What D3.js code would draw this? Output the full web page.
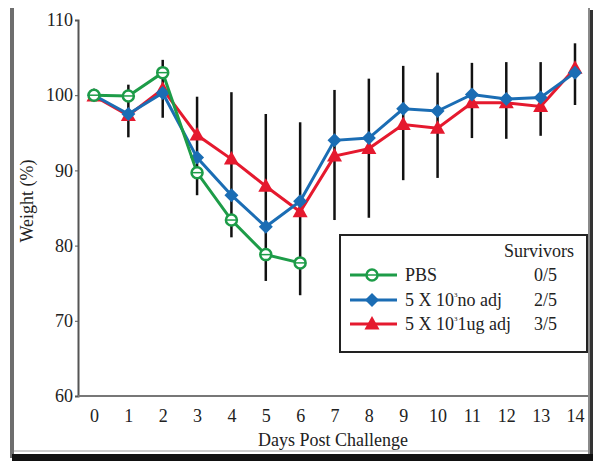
<!DOCTYPE html>
<html><head><meta charset="utf-8">
<script src="https://cdn.jsdelivr.net/npm/d3@7"></script>
<style>body{margin:0;background:#fff}svg{display:block}text{font-family:"Liberation Serif","Times New Roman",serif}</style>
</head><body><svg id="c" width="600" height="466"></svg>
<script>
const days = [0,1,2,3,4,5,6,7,8,9,10,11,12,13,14];
const pbsDays = [0,1,2,3,4,5,6];
const pbs = [100.0,99.9,103.0,89.7,83.4,78.8,77.7];
const noAdj = [100.0,97.5,100.3,91.7,86.7,82.5,85.9,94.0,94.3,98.2,97.9,100.1,99.5,99.7,103.0];
const ugAdj = [99.9,97.3,100.8,94.7,91.5,87.9,84.5,91.9,92.9,96.1,95.6,99.0,99.0,98.5,103.6];
const errLow  = [null,94.4,97.0,86.7,81.1,75.3,73.4,83.4,83.7,88.7,89.0,94.3,94.2,94.6,98.7];
const errHigh = [null,101.4,104.7,99.8,100.4,97.5,96.4,100.7,102.2,103.9,103.0,104.3,104.4,104.4,106.9];
const yTicks = [60,70,80,90,100,110];
const legendNames = ["PBS","5 X 10","5 X 10"];
const legendSup = ["","3","3"];
const legendTail = ["","no adj","1ug adj"];
const survivors = ["0/5","2/5","3/5"];

const svg = d3.select("#c");
const x = d3.scaleLinear().domain([0,14]).range([94,575]);
const y = d3.scaleLinear().domain([60,110]).range([396,20]);
const green = "#1d9c48", blue = "#1b6db4", red = "#e5192e";

// frame
svg.append("rect").attr("x",10).attr("y",8).attr("width",4).attr("height",450).attr("fill","#6e6e6e");
svg.append("rect").attr("x",588).attr("y",8).attr("width",2).attr("height",448).attr("fill","#8a8a8a");
svg.append("rect").attr("x",590).attr("y",10).attr("width",3).attr("height",450).attr("fill","#333");
svg.append("line").attr("x1",14).attr("x2",588).attr("y1",451).attr("y2",451).attr("stroke","#999").attr("stroke-width",1);
svg.append("rect").attr("x",12).attr("y",454).attr("width",581).attr("height",7).attr("fill","#111");

// axes
const ya = svg.append("g").attr("transform","translate(78,0)")
  .call(d3.axisLeft(y).tickValues(yTicks).tickSize(3).tickPadding(2));
ya.select(".domain").attr("stroke","#555").attr("stroke-width",2);
ya.selectAll("line").attr("stroke","#555");
ya.selectAll("text").attr("font-size",18).attr("fill","#222").attr("font-family","Liberation Serif");

svg.append("line").attr("x1",78).attr("x2",588).attr("y1",396).attr("y2",396).attr("stroke","#777").attr("stroke-width",2);
const xa = svg.append("g").attr("transform","translate(0,396)")
  .call(d3.axisBottom(x).tickValues(days).tickSize(0).tickPadding(13));
xa.select(".domain").remove();
xa.selectAll("text").attr("font-size",18).attr("fill","#222").attr("font-family","Liberation Serif");

svg.append("text").attr("x",333).attr("y",446).attr("text-anchor","middle").attr("font-size",18).attr("fill","#222").text("Days Post Challenge");
svg.append("text").attr("transform","translate(33,201) rotate(-90)").attr("text-anchor","middle").attr("font-size",18).attr("fill","#222").text("Weight (%)");

// error bars
svg.append("g").selectAll("line").data(days.filter(d=>errLow[d]!=null)).join("line")
  .attr("x1",d=>x(d)).attr("x2",d=>x(d)).attr("y1",d=>y(errLow[d])).attr("y2",d=>y(errHigh[d]))
  .attr("stroke","#111").attr("stroke-width",2.5);

const line = d3.line().x(d=>x(d[0])).y(d=>y(d[1]));
const series = [
  {c:green, pts:pbsDays.map((d,i)=>[d,pbs[i]]), m:"circle"},
  {c:red, pts:days.map((d,i)=>[d,ugAdj[i]]), m:"tri"},
  {c:blue, pts:days.map((d,i)=>[d,noAdj[i]]), m:"diamond"}
];
function marker(g, m, c){
  if(m==="circle"){
    g.append("circle").attr("r",5.5).attr("fill","#fff").attr("stroke",c).attr("stroke-width",2.5);
    g.append("line").attr("x1",-5).attr("x2",5).attr("stroke",c).attr("stroke-width",1.5);
  } else if(m==="diamond"){
    g.append("path").attr("d","M0,-7L7,0L0,7L-7,0Z").attr("fill",c);
  } else {
    g.append("path").attr("d","M0,-8L7.5,5.5L-7.5,5.5Z").attr("fill",c);
  }
}
[series[1],series[2],series[0]].forEach(s=>{
  svg.append("path").datum(s.pts).attr("d",line).attr("fill","none").attr("stroke",s.c).attr("stroke-width",3);
  s.pts.forEach(p=>{
    const g = svg.append("g").attr("transform",`translate(${x(p[0])},${y(p[1])})`);
    marker(g,s.m,s.c);
  });
});

// legend
svg.append("rect").attr("x",340).attr("y",235).attr("width",247).attr("height",117).attr("fill","#fff").attr("stroke","#222").attr("stroke-width",2);
svg.append("text").attr("x",574).attr("y",257).attr("text-anchor","end").attr("font-size",18).attr("fill","#222").text("Survivors");
const cols=[green,blue,red], ms=["circle","diamond","tri"], rowY=[275,300,324];
for(let i=0;i<3;i++){
  svg.append("line").attr("x1",350).attr("x2",397).attr("y1",rowY[i]).attr("y2",rowY[i]).attr("stroke",cols[i]).attr("stroke-width",3);
  const g = svg.append("g").attr("transform",`translate(372,${rowY[i]})`);
  marker(g,ms[i],cols[i]);
  const t = svg.append("text").attr("x",405).attr("y",rowY[i]+6).attr("font-size",18).attr("fill","#222");
  t.append("tspan").text(legendNames[i]);
  if(legendSup[i]){
    t.append("tspan").attr("font-size",7).attr("dy",-9).text(legendSup[i]);
    t.append("tspan").attr("dy",9).text(legendTail[i]);
  }
  svg.append("text").attr("x",557).attr("y",rowY[i]+6).attr("text-anchor","end").attr("font-size",18).attr("fill","#222").text(survivors[i]);
}
</script></body></html>
